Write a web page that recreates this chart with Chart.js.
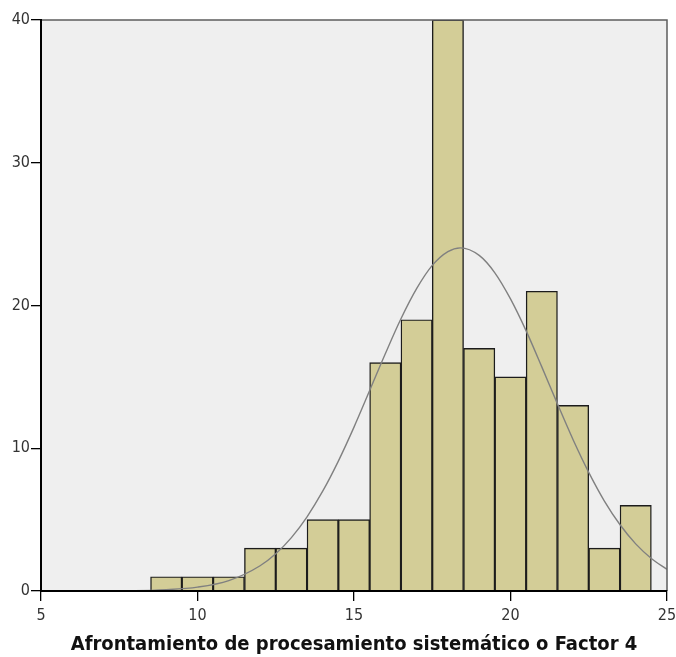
<!DOCTYPE html>
<html>
<head>
<meta charset="utf-8">
<script src="https://cdn.jsdelivr.net/npm/chart.js@4/dist/chart.umd.min.js"></script>
<style>
  html, body { margin: 0; padding: 0; background: #ffffff; }
  #wrap { width: 676px; height: 657px; position: relative; }
</style>
</head>
<body>
<div id="wrap"><canvas id="hist"></canvas></div>
<script>
// Histogram bins (centre of each unit-wide bin) and their counts
const binCenters = [9, 10, 11, 12, 13, 14, 15, 16, 17, 18, 19, 20, 21, 22, 23, 24];
const frequencies = [1, 1, 1, 3, 3, 5, 5, 16, 19, 40, 17, 15, 21, 13, 3, 6];

// Normal reference curve, sampled along the x axis
const curveX = [5, 6, 7, 8, 9, 10, 11, 12, 12.5, 13, 13.5, 14, 14.5, 15, 15.5, 16, 16.5, 17, 17.5, 18, 18.4,
                19, 19.5, 20, 20.5, 21, 21.5, 22, 22.5, 23, 23.5, 24, 24.5, 25];
const curveY = [0, 0, 0.01, 0.02, 0.09, 0.27, 0.73, 1.77, 2.61, 3.74, 5.20, 6.99, 9.10, 11.48, 14.04, 16.62, 19.07, 21.18, 22.81, 23.78, 24.04,
                23.51, 22.29, 20.46, 18.22, 15.70, 13.11, 10.60, 8.31, 6.30, 4.64, 3.30, 2.28, 1.52];

// Axis ranges and tick steps
const xRange = [5, 25];
const xStep = 5;
const yRange = [0, 40];
const yStep = 10;

const axisTitle = 'Afrontamiento de procesamiento sistemático o Factor 4';

const tickFont = { family: "'Liberation Sans Narrow', 'DejaVu Sans Condensed', sans-serif", size: 16 };
const titleFont = { family: "'Liberation Sans Narrow', 'DejaVu Sans Condensed', sans-serif", size: 20, weight: 'bold' };

// Grey plot background plus the thin frame on the top and right edges
const plotFrame = {
  id: 'plotFrame',
  beforeDraw(chart) {
    const { ctx, chartArea: a } = chart;
    ctx.save();
    ctx.fillStyle = '#efefef';
    ctx.fillRect(a.left, a.top, a.right - a.left, a.bottom - a.top);
    ctx.restore();
  },
  afterDatasetsDraw(chart) {
    const { ctx, chartArea: a } = chart;
    ctx.save();
    ctx.strokeStyle = '#5e5e5e';
    ctx.lineWidth = 1.5;
    ctx.beginPath();
    ctx.moveTo(a.left, a.top);
    ctx.lineTo(a.right, a.top);
    ctx.lineTo(a.right, a.bottom);
    ctx.stroke();
    ctx.restore();
  }
};

new Chart(document.getElementById('hist'), {
  type: 'bar',
  data: {
    datasets: [
      {
        type: 'line',
        data: curveX.map((x, i) => ({ x, y: curveY[i] })),
        borderColor: '#808080',
        borderWidth: 1.4,
        pointRadius: 0,
        fill: false,
        cubicInterpolationMode: 'monotone',
        order: 0
      },
      {
        type: 'bar',
        data: binCenters.map((x, i) => ({ x, y: frequencies[i] })),
        backgroundColor: '#d3cd97',
        borderColor: '#1c1c1c',
        borderWidth: 1.4,
        barPercentage: 1,
        categoryPercentage: 1,
        order: 1
      }
    ]
  },
  options: {
    responsive: true,
    maintainAspectRatio: false,
    animation: false,
    events: [],
    layout: { padding: { top: 20, right: 9, bottom: 0, left: 0 } },
    plugins: {
      legend: { display: false },
      tooltip: { enabled: false }
    },
    scales: {
      x: {
        type: 'linear',
        min: xRange[0],
        max: xRange[1],
        offset: false,
        afterFit(scale) {
          scale.height = 66;
          scale.paddingLeft = 0;
          scale.paddingRight = 0;
        },
        ticks: { stepSize: xStep, font: tickFont, color: '#333333', padding: 5, maxRotation: 0 },
        grid: { drawOnChartArea: false, drawTicks: true, tickLength: 10, color: '#000000', lineWidth: 1.3, offset: false },
        border: { display: true, color: '#000000', width: 2, z: 1 },
        title: { display: true, text: axisTitle, font: titleFont, color: '#111111', padding: { top: 0, bottom: 0 } }
      },
      y: {
        min: yRange[0],
        max: yRange[1],
        afterFit(scale) {
          scale.width = 41;
          scale.paddingTop = 0;
          scale.paddingBottom = 0;
        },
        ticks: { stepSize: yStep, font: tickFont, color: '#333333', padding: 1 },
        grid: { drawOnChartArea: false, drawTicks: true, tickLength: 10, color: '#000000', lineWidth: 1.3 },
        border: { display: true, color: '#000000', width: 2, z: 1 }
      }
    }
  },
  plugins: [plotFrame]
});
</script>
</body>
</html>
